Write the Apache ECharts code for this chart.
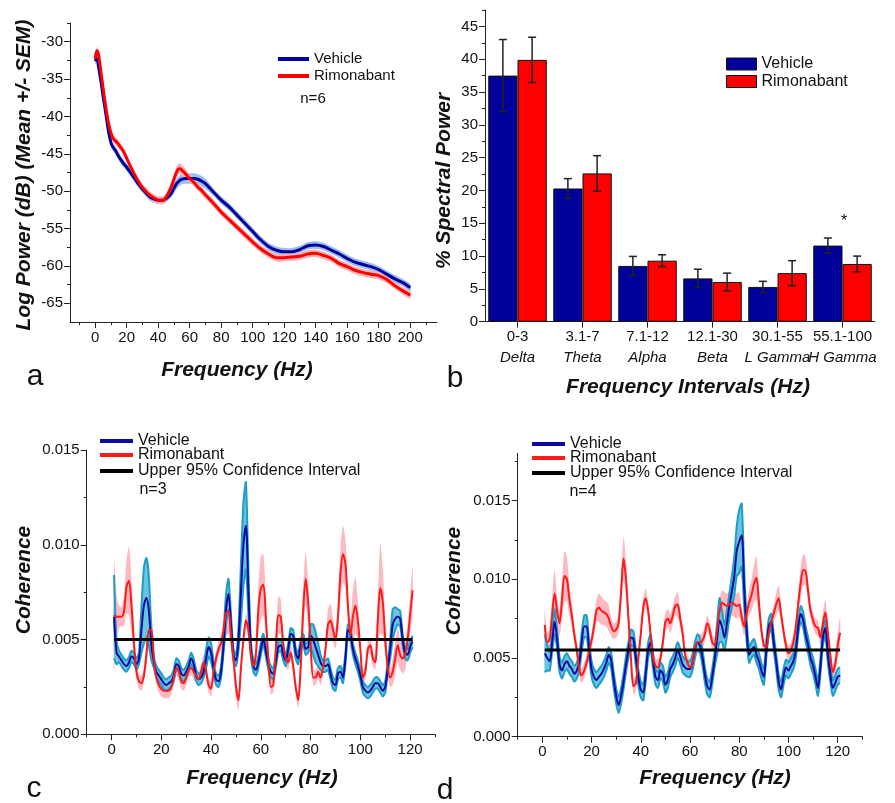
<!DOCTYPE html>
<html><head><meta charset="utf-8">
<script src="https://cdn.jsdelivr.net/npm/echarts@6/dist/echarts.min.js"></script>
<style>html,body{margin:0;padding:0;background:#fff}#c{width:895px;height:803px}</style>
</head><body><div id="c"></div>
<script>
// ---------- Panel a : log power spectrum ----------
const freqA = [0,1,2,3,4,5,6,7,8,9,10,11,12,13,15,18,20,22,25,28,30,33,35,38,40,43,45,48,50,52,53,54,55,57,60,63,65,68,70,75,80,85,90,95,100,105,110,115,120,125,130,135,140,145,150,155,160,165,170,175,180,185,190,195,200];
const vehA = [-32.6,-32.2,-33.2,-34.5,-35.8,-37.3,-38.6,-40.0,-41.4,-42.6,-43.5,-44.0,-44.3,-44.6,
  -45.4,-46.3,-46.8,-47.4,-48.3,-49.2,-49.7,-50.4,-50.8,-51.1,-51.2,-51.2,-51.0,-50.4,-49.6,-48.9,-48.7,-48.5,-48.4,-48.3,-48.3,-48.3,-48.4,-48.7,-49.0,
  -50.1,-51.2,-52.1,-53.2,-54.3,-55.4,-56.5,-57.4,-57.9,-58.1,-58.1,-57.8,-57.3,-57.2,-57.4,-57.9,-58.4,-59.0,-59.5,-59.8,-60.1,-60.5,-61.1,-61.7,-62.2,-62.9];
const rimA = [-32.3,-31.2,-31.6,-33.0,-34.6,-36.2,-37.7,-39.1,-40.4,-41.4,-42.2,-42.8,-43.1,-43.3,
  -43.8,-44.7,-45.6,-46.5,-47.8,-48.9,-49.5,-50.2,-50.6,-51.0,-51.2,-51.2,-50.8,-49.6,-48.4,-47.3,-47.0,-47.0,-47.2,-47.6,-48.3,-48.9,-49.4,-50.0,-50.5,
  -51.6,-52.8,-53.8,-54.8,-55.8,-56.8,-57.7,-58.4,-58.9,-58.9,-58.8,-58.7,-58.4,-58.3,-58.6,-59.0,-59.7,-60.1,-60.6,-60.9,-61.1,-61.3,-61.8,-62.6,-63.3,-63.9];
const semVehA = [0.5,0.5,0.5,0.5,0.5,0.5,0.5,0.5,0.5,0.5,0.5,0.5,0.5,0.5,
  0.5,0.5,0.5,0.5,0.5,0.5,0.5,0.5,0.5,0.5,0.5,0.5,0.5,0.5,0.7,0.7,0.7,0.7,0.7,0.7,0.7,0.7,0.7,0.7,0.7,
  0.5,0.5,0.5,0.5,0.5,0.5,0.5,0.5,0.5,0.5,0.5,0.5,0.5,0.5,0.5,0.5,0.5,0.5,0.5,0.5,0.5,0.5,0.5,0.5,0.5,0.5];
const semRimA = [0.5,0.5,0.5,0.5,0.5,0.5,0.5,0.5,0.5,0.5,0.5,0.5,0.5,0.5,
  0.5,0.5,0.5,0.5,0.5,0.5,0.5,0.5,0.5,0.5,0.5,0.5,0.5,0.7,0.7,0.7,0.7,0.7,0.7,0.7,0.5,0.5,0.5,0.5,0.5,
  0.5,0.5,0.5,0.5,0.5,0.5,0.5,0.5,0.5,0.5,0.5,0.5,0.5,0.5,0.5,0.5,0.5,0.5,0.5,0.5,0.5,0.5,0.5,0.5,0.5,0.5];
const xLabelsA = [0,20,40,60,80,100,120,140,160,180,200];
const xMinorA = [-10,10,30,50,70,90,110,130,150,170,190,210];
const yLabelsA = [-65,-60,-55,-50,-45,-40,-35,-30];
const yMinorA = [-62.5,-57.5,-52.5,-47.5,-42.5,-37.5,-32.5,-27.5];

// ---------- Panel b : % spectral power ----------
const catsB = ['0-3','3.1-7','7.1-12','12.1-30','30.1-55','55.1-100'];
const bandNamesB = ['Delta','Theta','Alpha','Beta','L Gamma','H Gamma'];
const vehB = [37.5, 20.3, 8.5, 6.6, 5.3, 11.6];
const errVehB = [5.5, 1.5, 1.45, 1.4, 0.85, 1.15];
const rimB = [39.9, 22.6, 9.3, 6.05, 7.4, 8.8];
const errRimB = [3.45, 2.7, 0.9, 1.35, 1.9, 1.2];
const yLabelsB = [0,5,10,15,20,25,30,35,40,45];
const yMinorB = [2.5,7.5,12.5,17.5,22.5,27.5,32.5,37.5,42.5,47.5];

// ---------- Panels c & d : coherence ----------
const freqCD = [1,2,3,4,5,6,7,8,9,10,11,12,13,14,15,16,17,18,19,20,21,22,23,24,25,26,27,28,29,30,
  31,32,33,34,35,36,37,38,39,40,41,42,43,44,45,46,47,48,49,50,51,52,53,54,55,56,57,58,59,60,
  61,62,63,64,65,66,67,68,69,70,71,72,73,74,75,76,77,78,79,80,81,82,83,84,85,86,87,88,89,90,
  91,92,93,94,95,96,97,98,99,100,101,102,103,104,105,106,107,108,109,110,111,112,113,114,115,116,117,118,119,120,121];
const vehC = [0.0062,0.0043,0.0041,0.0039,0.0037,0.0036,0.0038,0.0041,0.0040,0.0037,
  0.0040,0.0055,0.0068,0.0072,0.0065,0.0047,0.0038,0.0033,0.0031,0.0029,
  0.0027,0.0026,0.0027,0.0028,0.0031,0.0037,0.0036,0.0032,0.0031,0.0033,
  0.0036,0.0040,0.0037,0.0031,0.0029,0.0030,0.0033,0.0040,0.0046,0.0043,
  0.0035,0.0029,0.0028,0.0033,0.0047,0.0066,0.0074,0.0058,0.0042,0.0039,
  0.0050,0.0075,0.0100,0.0110,0.0075,0.0045,0.0036,0.0034,0.0038,0.0045,
  0.0050,0.0044,0.0037,0.0033,0.0032,0.0038,0.0046,0.0047,0.0042,0.0039,
  0.0045,0.0053,0.0052,0.0043,0.0040,0.0047,0.0050,0.0045,0.0046,0.0052,
  0.0050,0.0046,0.0042,0.0038,0.0036,0.0036,0.0037,0.0032,0.0027,0.0026,
  0.0032,0.0033,0.0030,0.0040,0.0055,0.0053,0.0045,0.0040,0.0036,0.0031,
  0.0025,0.0023,0.0022,0.0023,0.0025,0.0027,0.0027,0.0025,0.0023,0.0025,
  0.0035,0.0045,0.0058,0.0061,0.0062,0.0061,0.0050,0.0043,0.0042,0.0046,0.0049];
const semVehC = [0.0022,0.0006,0.0003,0.0003,0.0003,0.0003,0.0003,0.0003,0.0003,0.0003,
  0.0003,0.0012,0.0020,0.0021,0.0018,0.0008,0.0003,0.0003,0.0003,0.0003,
  0.0003,0.0003,0.0003,0.0003,0.0003,0.0003,0.0003,0.0003,0.0003,0.0003,
  0.0003,0.0003,0.0003,0.0003,0.0003,0.0003,0.0003,0.0005,0.0005,0.0005,
  0.0003,0.0003,0.0003,0.0003,0.0004,0.0008,0.0008,0.0005,0.0003,0.0003,
  0.0006,0.0015,0.0022,0.0023,0.0012,0.0004,0.0003,0.0003,0.0003,0.0003,
  0.0003,0.0003,0.0003,0.0003,0.0003,0.0003,0.0003,0.0003,0.0003,0.0003,
  0.0003,0.0003,0.0003,0.0003,0.0003,0.0003,0.0003,0.0003,0.0003,0.0006,
  0.0008,0.0008,0.0006,0.0004,0.0003,0.0003,0.0003,0.0003,0.0003,0.0003,
  0.0003,0.0003,0.0003,0.0003,0.0003,0.0003,0.0003,0.0003,0.0003,0.0003,
  0.0003,0.0003,0.0003,0.0003,0.0003,0.0003,0.0003,0.0003,0.0003,0.0003,
  0.0003,0.0005,0.0008,0.0006,0.0004,0.0004,0.0003,0.0003,0.0003,0.0003,0.0003];
const rimC = [0.0063,0.0062,0.0062,0.0062,0.0065,0.0078,0.0081,0.0068,0.0048,0.0033,
  0.0028,0.0027,0.0031,0.0042,0.0055,0.0055,0.0040,0.0030,0.0026,0.0024,
  0.0023,0.0023,0.0023,0.0025,0.0030,0.0035,0.0033,0.0028,0.0027,0.0030,
  0.0034,0.0035,0.0033,0.0031,0.0029,0.0033,0.0038,0.0033,0.0026,0.0024,
  0.0033,0.0040,0.0045,0.0048,0.0055,0.0064,0.0065,0.0052,0.0040,0.0025,
  0.0018,0.0035,0.0050,0.0060,0.0055,0.0042,0.0036,0.0042,0.0066,0.0077,
  0.0079,0.0062,0.0040,0.0025,0.0026,0.0045,0.0063,0.0062,0.0048,0.0040,
  0.0038,0.0043,0.0036,0.0025,0.0018,0.0035,0.0065,0.0082,0.0070,0.0048,
  0.0030,0.0030,0.0033,0.0030,0.0035,0.0045,0.0058,0.0060,0.0055,0.0050,
  0.0062,0.0085,0.0095,0.0090,0.0068,0.0052,0.0062,0.0068,0.0060,0.0045,
  0.0030,0.0033,0.0045,0.0047,0.0040,0.0038,0.0060,0.0077,0.0070,0.0050,
  0.0035,0.0030,0.0033,0.0040,0.0047,0.0042,0.0040,0.0042,0.0050,0.0063,0.0076];
const semRimC = [0.0030,0.0012,0.0006,0.0005,0.0008,0.0014,0.0018,0.0015,0.0008,0.0004,
  0.0004,0.0004,0.0004,0.0006,0.0010,0.0010,0.0006,0.0004,0.0004,0.0004,
  0.0004,0.0004,0.0004,0.0004,0.0004,0.0004,0.0004,0.0004,0.0004,0.0004,
  0.0004,0.0004,0.0004,0.0004,0.0004,0.0004,0.0004,0.0004,0.0004,0.0004,
  0.0004,0.0004,0.0004,0.0004,0.0008,0.0012,0.0012,0.0008,0.0006,0.0006,
  0.0005,0.0004,0.0004,0.0004,0.0004,0.0004,0.0004,0.0004,0.0012,0.0017,
  0.0016,0.0010,0.0004,0.0004,0.0004,0.0008,0.0010,0.0009,0.0004,0.0004,
  0.0004,0.0004,0.0004,0.0004,0.0004,0.0008,0.0012,0.0014,0.0012,0.0006,
  0.0004,0.0004,0.0004,0.0004,0.0004,0.0004,0.0008,0.0009,0.0006,0.0005,
  0.0008,0.0013,0.0015,0.0013,0.0008,0.0008,0.0014,0.0015,0.0010,0.0004,
  0.0004,0.0004,0.0004,0.0004,0.0004,0.0004,0.0012,0.0024,0.0018,0.0008,
  0.0005,0.0005,0.0007,0.0008,0.0009,0.0008,0.0008,0.0008,0.0008,0.0010,0.0013];
const vehD = [0.0053,0.0050,0.0048,0.0060,0.0073,0.0062,0.0046,0.0042,0.0046,0.0048,
  0.0045,0.0043,0.0040,0.0042,0.0047,0.0060,0.0070,0.0070,0.0056,0.0043,
  0.0038,0.0036,0.0038,0.0040,0.0043,0.0047,0.0052,0.0048,0.0036,0.0026,
  0.0020,0.0026,0.0035,0.0046,0.0055,0.0063,0.0062,0.0050,0.0038,0.0030,
  0.0028,0.0040,0.0055,0.0060,0.0048,0.0038,0.0036,0.0042,0.0040,0.0033,
  0.0036,0.0043,0.0046,0.0050,0.0055,0.0051,0.0046,0.0044,0.0043,0.0043,
  0.0047,0.0055,0.0060,0.0058,0.0051,0.0040,0.0032,0.0030,0.0038,0.0049,
  0.0062,0.0074,0.0070,0.0063,0.0072,0.0083,0.0092,0.0102,0.0118,0.0124,
  0.0128,0.0095,0.0068,0.0052,0.0055,0.0057,0.0052,0.0048,0.0042,0.0038,
  0.0055,0.0070,0.0073,0.0060,0.0048,0.0035,0.0030,0.0038,0.0044,0.0042,
  0.0045,0.0048,0.0055,0.0070,0.0078,0.0074,0.0065,0.0058,0.0050,0.0045,
  0.0038,0.0031,0.0045,0.0063,0.0069,0.0052,0.0040,0.0031,0.0034,0.0038,0.0039];
const semVehD = [0.0012,0.0008,0.0006,0.0006,0.0008,0.0006,0.0005,0.0005,0.0005,0.0005,
  0.0005,0.0005,0.0005,0.0005,0.0005,0.0006,0.0007,0.0007,0.0005,0.0005,
  0.0005,0.0005,0.0005,0.0005,0.0005,0.0005,0.0005,0.0005,0.0005,0.0005,
  0.0005,0.0005,0.0005,0.0005,0.0005,0.0005,0.0005,0.0005,0.0005,0.0005,
  0.0005,0.0005,0.0005,0.0005,0.0005,0.0005,0.0005,0.0005,0.0005,0.0005,
  0.0005,0.0005,0.0005,0.0005,0.0005,0.0005,0.0005,0.0005,0.0005,0.0005,
  0.0005,0.0005,0.0005,0.0005,0.0005,0.0005,0.0005,0.0005,0.0005,0.0005,
  0.0010,0.0014,0.0010,0.0008,0.0008,0.0008,0.0010,0.0012,0.0016,0.0020,
  0.0020,0.0012,0.0007,0.0005,0.0005,0.0005,0.0005,0.0005,0.0005,0.0005,
  0.0005,0.0005,0.0005,0.0005,0.0005,0.0005,0.0005,0.0005,0.0005,0.0005,
  0.0005,0.0005,0.0005,0.0005,0.0005,0.0005,0.0005,0.0005,0.0005,0.0005,
  0.0005,0.0005,0.0005,0.0005,0.0005,0.0005,0.0005,0.0005,0.0005,0.0005,0.0005];
const rimD = [0.0071,0.0060,0.0062,0.0078,0.0091,0.0080,0.0072,0.0087,0.0102,0.0100,
  0.0087,0.0077,0.0065,0.0055,0.0043,0.0039,0.0042,0.0047,0.0054,0.0061,
  0.0070,0.0080,0.0082,0.0080,0.0079,0.0078,0.0075,0.0070,0.0067,0.0068,
  0.0072,0.0092,0.0113,0.0100,0.0075,0.0050,0.0032,0.0034,0.0050,0.0065,
  0.0082,0.0088,0.0080,0.0065,0.0050,0.0045,0.0044,0.0050,0.0060,0.0073,
  0.0075,0.0072,0.0077,0.0083,0.0084,0.0075,0.0066,0.0052,0.0047,0.0044,
  0.0046,0.0056,0.0060,0.0060,0.0061,0.0065,0.0072,0.0068,0.0060,0.0058,
  0.0068,0.0080,0.0085,0.0084,0.0083,0.0084,0.0085,0.0084,0.0083,0.0084,
  0.0076,0.0070,0.0078,0.0085,0.0090,0.0097,0.0101,0.0085,0.0068,0.0058,
  0.0057,0.0066,0.0073,0.0078,0.0084,0.0088,0.0078,0.0067,0.0058,0.0053,
  0.0055,0.0060,0.0070,0.0085,0.0098,0.0106,0.0105,0.0092,0.0080,0.0074,
  0.0070,0.0069,0.0063,0.0072,0.0079,0.0066,0.0052,0.0041,0.0046,0.0058,0.0066];
const semRimD = [0.0010,0.0006,0.0007,0.0010,0.0015,0.0010,0.0008,0.0012,0.0016,0.0014,
  0.0010,0.0008,0.0005,0.0005,0.0005,0.0005,0.0005,0.0005,0.0005,0.0005,
  0.0006,0.0007,0.0009,0.0009,0.0008,0.0008,0.0008,0.0006,0.0005,0.0005,
  0.0006,0.0010,0.0014,0.0012,0.0007,0.0005,0.0005,0.0005,0.0005,0.0005,
  0.0006,0.0006,0.0005,0.0005,0.0005,0.0005,0.0005,0.0005,0.0005,0.0006,
  0.0006,0.0006,0.0006,0.0006,0.0008,0.0006,0.0005,0.0005,0.0005,0.0005,
  0.0005,0.0005,0.0005,0.0005,0.0005,0.0005,0.0005,0.0005,0.0005,0.0005,
  0.0006,0.0007,0.0008,0.0008,0.0008,0.0008,0.0008,0.0008,0.0008,0.0008,
  0.0006,0.0006,0.0006,0.0008,0.0010,0.0012,0.0014,0.0010,0.0005,0.0005,
  0.0005,0.0005,0.0005,0.0005,0.0007,0.0008,0.0006,0.0005,0.0005,0.0005,
  0.0005,0.0005,0.0005,0.0007,0.0010,0.0010,0.0009,0.0007,0.0005,0.0005,
  0.0005,0.0005,0.0005,0.0007,0.0008,0.0006,0.0005,0.0005,0.0005,0.0008,0.0010];
const ciFreq = [1, 121];
const ciC = [0.005, 0.005];
const ciD = [0.0055, 0.0055];
const xLabelsCD = [0,20,40,60,80,100,120];
const xMinorCD = [-10,10,30,50,70,90,110,130];
const yLabelsCD = [0, 0.005, 0.010, 0.015];
const yMinorC = [0.0025, 0.0075, 0.0125];
const yMinorD = [0.0025, 0.0075, 0.0125, 0.0175];

// ---------- helpers ----------
const FONT = '"Liberation Sans", Arial, Helvetica, sans-serif';
const INK = '#111';
const AX = {lineStyle: {color: '#222', width: 1}};
const pairs = (x, y) => x.map((v, i) => [v, y[i]]);

function mainX(grid, min, max, labels) {
  return {type: 'value', gridIndex: grid, min, max, position: 'bottom',
    axisLine: {show: true, onZero: false, ...AX},
    axisTick: {show: true, customValues: labels, length: 6, ...AX},
    axisLabel: {customValues: labels, margin: 8, fontSize: 15, color: INK, fontFamily: FONT},
    splitLine: {show: false}};
}
function minorX(grid, min, max, ticks) {
  return {type: 'value', gridIndex: grid, min, max, position: 'bottom',
    axisLine: {show: false, onZero: false}, axisTick: {show: true, customValues: ticks, length: 3, ...AX},
    axisLabel: {show: false}, splitLine: {show: false}};
}
function mainY(grid, min, max, labels, fmt) {
  return {type: 'value', gridIndex: grid, min, max, position: 'left',
    axisLine: {show: true, onZero: false, ...AX},
    axisTick: {show: true, customValues: labels, length: 6, ...AX},
    axisLabel: {customValues: labels, margin: 7, fontSize: 15, color: INK, fontFamily: FONT, formatter: fmt},
    splitLine: {show: false}};
}
function minorY(grid, min, max, ticks) {
  return {type: 'value', gridIndex: grid, min, max, position: 'left',
    axisLine: {show: false, onZero: false}, axisTick: {show: true, customValues: ticks, length: 3, ...AX},
    axisLabel: {show: false}, splitLine: {show: false}};
}
// SEM band drawn as one polygon from the data through the axes' own coord()
function bandSeries(xi, yi, x, m, s, fill, edge) {
  return {type: 'custom', xAxisIndex: xi, yAxisIndex: yi, silent: true, clip: true,
    data: x.map((v, i) => [v, m[i] - s[i], m[i] + s[i]]),
    encode: {x: 0, y: [1, 2]},
    renderItem: (params, api) => {
      if (params.dataIndexInside !== 0) return null;
      const n = params.dataInsideLength;
      const up = [], lo = [];
      for (let j = 0; j < n; j++) {
        const xv = api.value(0, j);
        up.push(api.coord([xv, api.value(2, j)]));
        lo.push(api.coord([xv, api.value(1, j)]));
      }
      const children = [{type: 'polygon', shape: {points: up.concat(lo.slice().reverse()), smooth: 0.25},
        style: {fill, stroke: null}}];
      if (edge) {
        children.push({type: 'polyline', shape: {points: up, smooth: 0.25}, style: {stroke: edge, lineWidth: 2, fill: null}});
        children.push({type: 'polyline', shape: {points: lo, smooth: 0.25}, style: {stroke: edge, lineWidth: 2, fill: null}});
      }
      return {type: 'group', children};
    }};
}
function meanSeries(name, xi, yi, x, m, color, w) {
  return {type: 'line', name, xAxisIndex: xi, yAxisIndex: yi, data: pairs(x, m), symbol: 'none',
    smooth: 0.3, silent: true, color, lineStyle: {color, width: w}};
}
function errRender(side) {
  return function (params, api) {
    const i = api.value(0), lo = api.value(1), hi = api.value(2);
    const bw = api.size([1, 0])[0];
    const pLo = api.coord([i, lo]), pHi = api.coord([i, hi]);
    const x = pLo[0] + side * bw * 0.225;
    const cap = 4;
    const st = {stroke: '#222', lineWidth: 1.5};
    return {type: 'group', children: [
      {type: 'line', shape: {x1: x, y1: pHi[1], x2: x, y2: pLo[1]}, style: st},
      {type: 'line', shape: {x1: x - cap, y1: pHi[1], x2: x + cap, y2: pHi[1]}, style: st},
      {type: 'line', shape: {x1: x - cap, y1: pLo[1], x2: x + cap, y2: pLo[1]}, style: st}
    ]};
  };
}
function legendItem(name, color, left, top, w, h, fs, border) {
  return {data: [{name, icon: 'rect', itemStyle: border ? {color, borderColor: '#111', borderWidth: 1} : {color, borderWidth: 0}}],
    left, top, orient: 'vertical', padding: 0, itemWidth: w, itemHeight: h, selectedMode: false,
    textStyle: {fontSize: fs, color: INK, fontFamily: FONT, lineHeight: 16}};
}
function gtext(text, x, y, size, o = {}) {
  return {type: 'text', x, y, rotation: o.rot || 0, silent: true,
    style: {text, fontSize: size, fontFamily: FONT, fontWeight: o.bold ? 'bold' : 'normal',
      fontStyle: o.italic ? 'italic' : 'normal', fill: INK,
      align: 'center', verticalAlign: 'middle', textAlign: 'center', textVerticalAlign: 'middle'}};
}
const fmt3 = v => v.toFixed(3);

const option = {
  animation: false,
  backgroundColor: '#fff',
  grid: [
    {left: 70, top: 23, width: 367, height: 299},
    {left: 485, top: 10, width: 390, height: 311.7},
    {left: 86.7, top: 450, width: 348.3, height: 284.3},
    {left: 517.7, top: 453.3, width: 344.6, height: 283.4}
  ],
  xAxis: [
    mainX(0, -16, 217, xLabelsA), minorX(0, -16, 217, xMinorA),
    {type: 'category', gridIndex: 1, data: catsB, boundaryGap: true, position: 'bottom',
     axisLine: {show: true, onZero: false, ...AX}, axisTick: {show: true, alignWithLabel: true, length: 6, ...AX},
     axisLabel: {margin: 5, color: INK, fontFamily: FONT, interval: 0,
       formatter: (v, i) => '{n|' + v + '}\n{i|' + bandNamesB[i] + '}',
       rich: {n: {fontSize: 15, lineHeight: 21, fontFamily: FONT, color: INK},
              i: {fontSize: 15, lineHeight: 21, fontStyle: 'italic', fontFamily: FONT, color: INK}}},
     splitLine: {show: false}},
    mainX(2, -10, 130, xLabelsCD), minorX(2, -10, 130, xMinorCD),
    mainX(3, -10, 130, xLabelsCD), minorX(3, -10, 130, xMinorCD)
  ],
  yAxis: [
    mainY(0, -67.5, -27.5, yLabelsA), minorY(0, -67.5, -27.5, yMinorA),
    mainY(1, 0, 47.5, yLabelsB), minorY(1, 0, 47.5, yMinorB),
    mainY(2, 0, 0.015, yLabelsCD, fmt3), minorY(2, 0, 0.015, yMinorC),
    mainY(3, 0, 0.018, yLabelsCD, fmt3), minorY(3, 0, 0.018, yMinorD)
  ],
  legend: [
    legendItem('Vehicle', '#00009a', 278, 51, 31, 4, 15),
    legendItem('Rimonabant', '#ff0000', 278, 68, 31, 4, 15),
    legendItem('Vehicle', '#00009a', 726, 56, 30, 12, 16, true),
    legendItem('Rimonabant', '#ff0000', 726, 73.5, 30, 12, 16, true),
    legendItem('Vehicle', '#0b0ba3', 100, 433, 33, 4, 16),
    legendItem('Rimonabant', '#ff1a1a', 100, 447, 33, 4, 16),
    legendItem('Upper 95% Confidence Interval', '#000', 100, 463, 33, 4, 16),
    legendItem('Vehicle', '#0b0ba3', 532, 436, 33, 4, 16),
    legendItem('Rimonabant', '#ff1a1a', 532, 450, 33, 4, 16),
    legendItem('Upper 95% Confidence Interval', '#000', 532, 465, 33, 4, 16)
  ],
  series: [
    // panel a
    bandSeries(0, 0, freqA, vehA, semVehA, '#9dbff2'),
    bandSeries(0, 0, freqA, rimA, semRimA, '#f8b4b4'),
    meanSeries('Vehicle', 0, 0, freqA, vehA, '#00009a', 3),
    meanSeries('Rimonabant', 0, 0, freqA, rimA, '#ff0000', 3),
    // panel b
    {type: 'bar', name: 'Vehicle', xAxisIndex: 2, yAxisIndex: 2, data: vehB, barWidth: '45%', barGap: '0%',
     itemStyle: {color: '#00009a', borderColor: '#111', borderWidth: 1}, silent: true},
    {type: 'bar', name: 'Rimonabant', xAxisIndex: 2, yAxisIndex: 2, data: rimB, barWidth: '45%', barGap: '0%',
     itemStyle: {color: '#ff0000', borderColor: '#111', borderWidth: 1}, silent: true},
    {type: 'custom', name: 'errV', xAxisIndex: 2, yAxisIndex: 2, renderItem: errRender(-1), z: 5,
     encode: {x: 0, y: [1, 2]}, data: vehB.map((v, i) => [i, v - errVehB[i], v + errVehB[i]]), silent: true},
    {type: 'custom', name: 'errR', xAxisIndex: 2, yAxisIndex: 2, renderItem: errRender(1), z: 5,
     encode: {x: 0, y: [1, 2]}, data: rimB.map((v, i) => [i, v - errRimB[i], v + errRimB[i]]), silent: true},
    // panel c
    bandSeries(3, 4, freqCD, rimC, semRimC, '#ffb8c0'),
    bandSeries(3, 4, freqCD, vehC, semVehC, '#66c6df', '#1f9dc8'),
    meanSeries('Vehicle', 3, 4, freqCD, vehC, '#0b0ba3', 2),
    meanSeries('Rimonabant', 3, 4, freqCD, rimC, '#ff1a1a', 2),
    meanSeries('Upper 95% Confidence Interval', 3, 4, ciFreq, ciC, '#000', 3),
    // panel d
    bandSeries(5, 6, freqCD, rimD, semRimD, '#ffb8c0'),
    bandSeries(5, 6, freqCD, vehD, semVehD, '#66c6df', '#1f9dc8'),
    meanSeries('Vehicle', 5, 6, freqCD, vehD, '#0b0ba3', 2),
    meanSeries('Rimonabant', 5, 6, freqCD, rimD, '#ff1a1a', 2),
    meanSeries('Upper 95% Confidence Interval', 5, 6, ciFreq, ciD, '#000', 3)
  ],
  graphic: [
    gtext('Log Power (dB) (Mean +/- SEM)', 24, 175, 21, {bold: true, italic: true, rot: Math.PI / 2}),
    gtext('Frequency (Hz)', 237, 370, 21, {bold: true, italic: true}),
    gtext('a', 35, 377, 30),
    gtext('n=6', 313, 99, 15),
    gtext('% Spectral Power', 444, 181, 21, {bold: true, italic: true, rot: Math.PI / 2}),
    gtext('Frequency Intervals (Hz)', 688, 387, 21, {bold: true, italic: true}),
    gtext('b', 455, 379, 30),
    gtext('*', 844, 222, 16),
    gtext('Coherence', 24, 580, 21, {bold: true, italic: true, rot: Math.PI / 2}),
    gtext('Frequency (Hz)', 262, 778, 21, {bold: true, italic: true}),
    gtext('c', 34, 789, 30),
    gtext('n=3', 153, 490, 16),
    gtext('Coherence', 454, 581, 21, {bold: true, italic: true, rot: Math.PI / 2}),
    gtext('Frequency (Hz)', 715, 778, 21, {bold: true, italic: true}),
    gtext('d', 445, 791, 30),
    gtext('n=4', 583, 492, 16)
  ]
};
const chart = echarts.init(document.getElementById('c'), null, {renderer: 'canvas'});
chart.setOption(option);
</script>
</body></html>
